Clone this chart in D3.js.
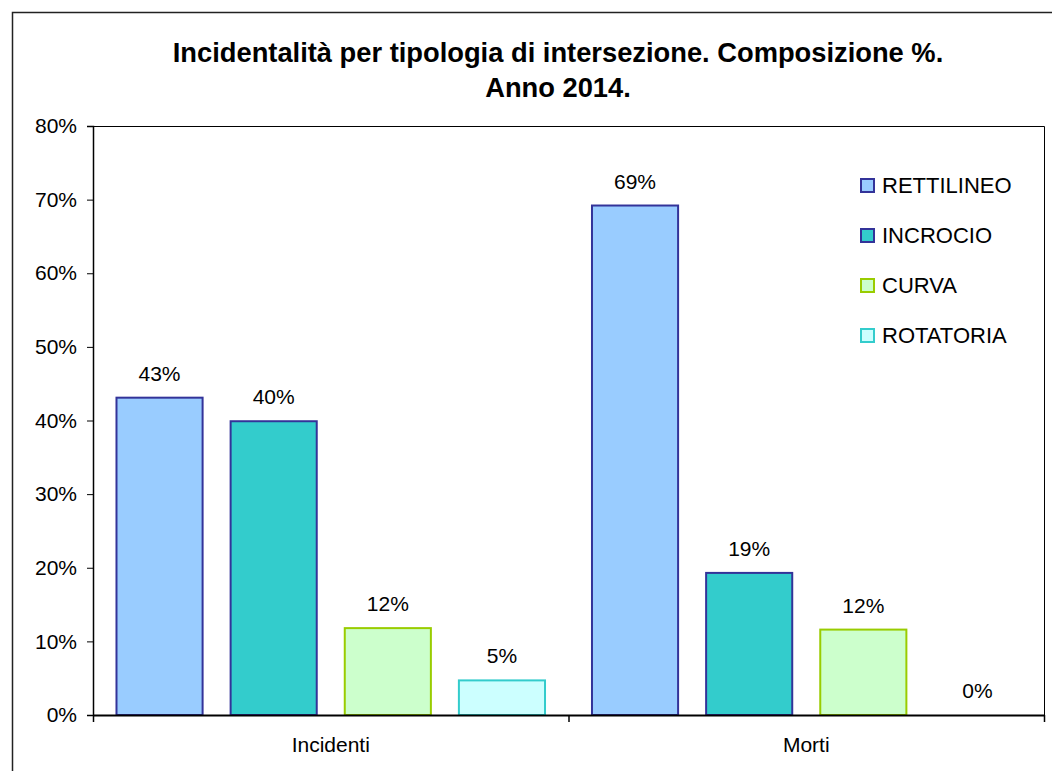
<!DOCTYPE html>
<html>
<head>
<meta charset="utf-8">
<script src="https://cdn.jsdelivr.net/npm/d3@7"></script>
<style>
  html, body { margin: 0; padding: 0; background: #ffffff; }
  svg { display: block; font-family: Arial, 'Liberation Sans', sans-serif; }
</style>
</head>
<body>
<div id="chart"></div>
<script>
const categories = ['Incidenti', 'Morti']
const series = ['RETTILINEO', 'INCROCIO', 'CURVA', 'ROTATORIA']
const incidenti = [0.431, 0.399, 0.118, 0.047]
const morti = [0.692, 0.193, 0.116, 0]
const yTicks = [0, 0.1, 0.2, 0.3, 0.4, 0.5, 0.6, 0.7, 0.8]
const titleLines = ['Incidentalità per tipologia di intersezione. Composizione %.', 'Anno 2014.']

const fills = ['#99ccff', '#33cccc', '#ccffcc', '#ccffff']
const strokes = ['#333399', '#333399', '#99cc00', '#33cccc']

const width = 1052
const height = 771
const plot = { left: 93, right: 1044, top: 126, bottom: 715 }
const fontSize = 21

const values = [incidenti, morti]
const data = categories.map((c, i) => ({
  category: c,
  bars: series.map((s, j) => ({ series: s, index: j, value: values[i][j] }))
}))

const svg = d3.select('#chart')
  .append('svg')
  .attr('width', width)
  .attr('height', height)

// chart border (runs off the right and bottom edge)
svg.append('rect')
  .attr('x', 12.5)
  .attr('y', 12.5)
  .attr('width', 1200)
  .attr('height', 900)
  .attr('fill', '#ffffff')
  .attr('stroke', '#222222')
  .attr('stroke-width', 1.5)

const x = d3.scaleBand()
  .domain(categories)
  .range([plot.left, plot.right])

const xInner = d3.scaleBand()
  .domain(series)
  .range([0, x.bandwidth()])
  .paddingInner(0.228)
  .paddingOuter(0.197)

const y = d3.scaleLinear()
  .domain([0, 0.8])
  .range([plot.bottom, plot.top])

const pct = d3.format('.0%')

// title
svg.append('g')
  .selectAll('text')
  .data(titleLines)
  .enter()
  .append('text')
  .attr('x', 558)
  .attr('y', (d, i) => 62 + i * 35)
  .attr('text-anchor', 'middle')
  .attr('font-size', '27.3px')
  .attr('font-weight', 'bold')
  .attr('fill', '#000000')
  .text(d => d)

// plot frame: top and right
svg.append('path')
  .attr('d', `M${plot.left},${plot.top + 0.5}H${plot.right + 0.5}V${plot.bottom}`)
  .attr('fill', 'none')
  .attr('stroke', '#000000')
  .attr('stroke-width', 1)

// bars
const groups = svg.append('g')
  .selectAll('g.group')
  .data(data)
  .enter()
  .append('g')
  .attr('class', 'group')
  .attr('transform', d => `translate(${x(d.category)},0)`)

groups.selectAll('rect.bar')
  .data(d => d.bars.filter(b => b.value > 0))
  .enter()
  .append('rect')
  .attr('class', 'bar')
  .attr('x', d => xInner(d.series) + 1)
  .attr('y', d => y(d.value))
  .attr('width', xInner.bandwidth() - 2)
  .attr('height', d => y(0) - y(d.value))
  .attr('fill', d => fills[d.index])
  .attr('stroke', d => strokes[d.index])
  .attr('stroke-width', 2)

groups.selectAll('text.label')
  .data(d => d.bars)
  .enter()
  .append('text')
  .attr('class', 'label')
  .attr('x', d => xInner(d.series) + xInner.bandwidth() / 2)
  .attr('y', d => y(d.value) - 17)
  .attr('text-anchor', 'middle')
  .attr('font-size', fontSize + 'px')
  .attr('fill', '#000000')
  .text(d => pct(d.value))

// y axis
const yAxis = svg.append('g')
  .attr('transform', `translate(${plot.left},0)`)
  .call(d3.axisLeft(y).tickValues(yTicks).tickFormat(pct).tickSize(6).tickPadding(10))
yAxis.select('.domain').attr('stroke', '#000000').attr('stroke-width', 1.5)
yAxis.selectAll('.tick line').attr('stroke', '#000000')
yAxis.selectAll('.tick text')
  .attr('font-size', fontSize + 'px')
  .attr('font-family', "Arial, 'Liberation Sans', sans-serif")
  .attr('fill', '#000000')

// x axis
const xAxis = svg.append('g')
  .attr('transform', `translate(0,${plot.bottom})`)
  .call(d3.axisBottom(x).tickSize(0).tickPadding(22))
xAxis.select('.domain').attr('stroke', '#000000').attr('stroke-width', 2)
xAxis.selectAll('.tick text')
  .attr('font-size', fontSize + 'px')
  .attr('font-family', "Arial, 'Liberation Sans', sans-serif")
  .attr('fill', '#000000')

// category separators on the x axis
const edges = categories.map(c => x(c)).concat([plot.right])
svg.append('g')
  .selectAll('line')
  .data(edges)
  .enter()
  .append('line')
  .attr('x1', d => d + 0.5)
  .attr('x2', d => d + 0.5)
  .attr('y1', plot.bottom)
  .attr('y2', plot.bottom + 7)
  .attr('stroke', '#000000')
  .attr('stroke-width', 1.5)

// legend
const legend = svg.append('g')
  .attr('transform', 'translate(860,185)')
  .selectAll('g.legend')
  .data(series)
  .enter()
  .append('g')
  .attr('class', 'legend')
  .attr('transform', (d, i) => `translate(0,${i * 50})`)

legend.append('rect')
  .attr('x', 1)
  .attr('y', -6)
  .attr('width', 13)
  .attr('height', 13)
  .attr('fill', (d, i) => fills[i])
  .attr('stroke', (d, i) => strokes[i])
  .attr('stroke-width', 2)

legend.append('text')
  .attr('x', 22)
  .attr('y', 0)
  .attr('dy', '0.36em')
  .attr('font-size', '22px')
  .attr('fill', '#000000')
  .text(d => d)
</script>
</body>
</html>
